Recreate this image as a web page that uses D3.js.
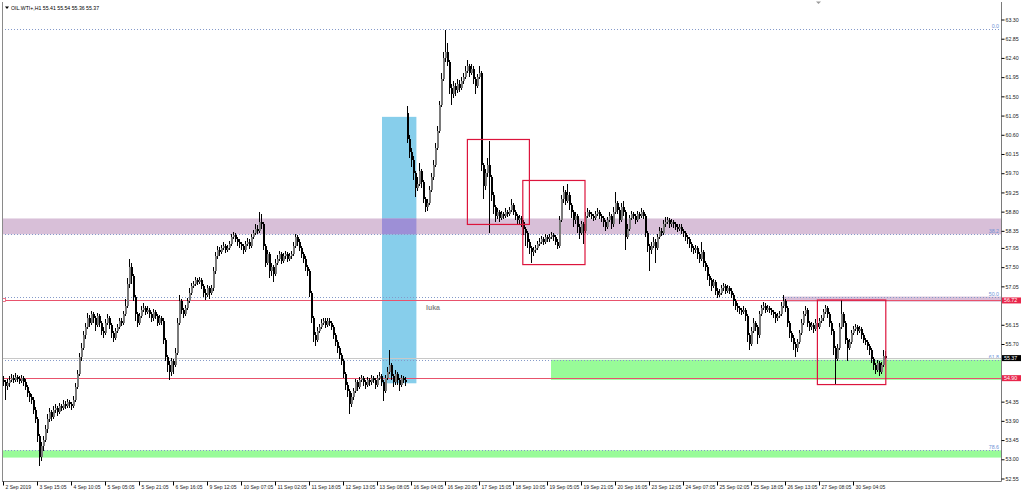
<!DOCTYPE html>
<html><head><meta charset="utf-8">
<script src="https://cdn.jsdelivr.net/npm/d3@7"></script>
<style>html,body{margin:0;padding:0;background:#fff;}svg{display:block;}</style>
</head><body>
<svg id="chart" width="1024" height="494"></svg>
<script>
// ---------------- DATA ----------------
const symbolTitle = "OIL.WTI+,H1";
const lastQuote = ["55.41", "55.54", "55.36", "55.37"];

const timeLabels = ["2 Sep 2019","3 Sep 15:05","4 Sep 10:05","5 Sep 05:05","5 Sep 21:05","6 Sep 16:05",
  "9 Sep 12:05","10 Sep 07:05","11 Sep 02:05","11 Sep 18:05","12 Sep 13:05","13 Sep 08:05",
  "16 Sep 04:05","16 Sep 20:05","17 Sep 15:05","18 Sep 10:05","19 Sep 05:05","19 Sep 21:05",
  "20 Sep 16:05","23 Sep 12:05","24 Sep 07:05","25 Sep 02:05","25 Sep 18:05","26 Sep 13:05",
  "27 Sep 08:05","30 Sep 04:05"];
const barsPerLabel = 17;

const priceTicks = [63.30,62.85,62.40,61.95,61.50,61.05,60.60,60.15,59.70,59.25,58.80,58.35,
  57.95,57.50,57.05,56.60,56.15,55.70,55.25,54.80,54.35,53.90,53.45,53.00,52.55];

const firstOpen = 54.85;
const gapBar = 202;
const gapOpen = 61.10;

const closes = [
54.80,54.72,54.78,54.85,54.90,54.86,54.92,54.88,54.84,54.90,
54.82,54.70,54.55,54.45,54.40,54.15,53.95,53.55,53.05,53.30,
53.45,53.70,53.95,54.10,54.00,54.15,54.20,54.10,54.25,54.20,
54.30,54.25,54.35,54.30,54.25,54.40,54.70,55.00,55.40,55.60,
55.90,56.10,56.30,56.20,56.40,56.30,56.15,56.35,56.20,56.00,
55.95,56.20,56.30,56.15,55.95,55.85,56.00,56.10,56.25,56.20,
56.40,56.60,57.10,57.50,57.30,56.80,56.40,56.20,56.35,56.50,
56.55,56.45,56.50,56.40,56.30,56.45,56.35,56.20,56.30,56.25,
55.80,55.40,55.20,55.05,55.30,55.20,55.50,56.20,56.70,56.50,
56.40,56.55,56.70,56.90,57.05,57.10,57.20,57.15,57.20,57.05,
56.90,56.85,57.00,56.90,57.00,57.40,57.75,57.90,57.85,57.95,
58.00,57.90,57.95,58.05,58.20,58.25,58.15,58.10,58.05,58.00,
57.90,58.05,58.10,58.00,58.20,58.30,58.40,58.35,58.55,58.50,
58.00,57.60,57.80,57.40,57.50,57.35,57.60,57.70,57.80,57.65,
57.75,57.80,57.70,57.75,57.80,58.00,58.20,58.10,57.95,57.80,
57.70,57.50,57.40,56.90,56.30,55.90,55.80,56.00,56.10,56.20,
56.25,56.15,56.25,56.20,56.10,55.90,55.75,55.60,55.45,55.30,
55.00,54.75,54.60,54.30,54.45,54.60,54.80,54.70,54.85,54.90,
54.80,54.75,54.85,54.80,54.90,54.85,54.75,54.90,54.95,54.80,
54.60,54.90,55.05,55.20,54.95,54.80,55.00,54.85,54.75,54.90,
54.85,54.80,60.50,60.20,60.00,59.70,59.35,59.45,59.75,59.50,
59.10,58.90,59.00,59.30,59.60,59.90,60.30,60.70,61.30,61.90,
62.40,62.55,62.30,61.70,61.55,61.75,61.65,61.80,61.70,61.85,
61.95,62.10,62.20,62.05,62.15,61.90,61.75,61.95,62.05,59.90,
59.40,59.70,59.90,59.60,59.20,58.90,58.70,58.80,58.65,58.75,
58.70,58.80,58.75,58.85,58.95,58.80,58.70,58.60,58.65,58.55,
58.40,58.30,58.10,57.95,57.85,57.90,57.95,58.05,58.10,58.15,
58.10,58.20,58.15,58.20,58.25,58.20,58.10,58.00,58.60,59.10,
59.25,59.05,59.20,58.95,58.80,58.60,58.70,58.45,58.30,58.50,
58.35,58.70,58.80,58.75,58.70,58.65,58.75,58.80,58.70,58.65,
58.55,58.45,58.60,58.70,58.50,58.80,59.00,58.85,58.60,58.90,
58.80,58.20,58.40,58.65,58.75,58.70,58.60,58.75,58.70,58.80,
58.70,58.30,58.00,57.90,58.00,58.10,57.95,58.20,58.35,58.30,
58.50,58.55,58.60,58.50,58.55,58.50,58.45,58.40,58.45,58.35,
58.30,58.20,58.15,58.05,57.95,57.90,57.95,57.80,57.70,57.85,
57.60,57.50,57.30,57.20,57.05,57.15,56.95,56.85,56.90,57.00,
57.05,56.95,57.00,56.95,56.85,56.70,56.60,56.55,56.50,56.45,
56.50,56.35,55.90,55.70,56.00,56.20,56.10,55.90,56.40,56.55,
56.60,56.50,56.55,56.50,56.45,56.40,56.30,56.35,56.40,56.60,
56.70,56.55,56.20,55.95,55.85,55.70,55.60,55.75,55.95,56.20,
56.40,56.50,56.20,56.10,56.15,56.05,56.20,56.10,56.25,56.30,
56.45,56.55,56.40,56.20,56.00,55.60,55.35,55.60,56.10,56.40,
56.20,55.80,55.60,55.75,55.95,56.05,56.10,56.00,56.05,55.90,
55.80,55.75,55.65,55.55,55.35,55.20,55.10,55.25,55.05,55.20,
55.41,55.37];

const highs = [
54.95,54.85,54.88,54.95,55.00,54.98,55.02,54.98,54.95,54.98,
54.95,54.88,54.75,54.60,54.52,54.45,54.22,54.00,53.60,53.40,
53.55,53.80,54.05,54.20,54.15,54.25,54.30,54.25,54.32,54.30,
54.38,54.36,54.42,54.40,54.35,54.48,54.78,55.10,55.50,55.72,
56.00,56.20,56.42,56.38,56.48,56.45,56.35,56.42,56.40,56.25,
56.10,56.28,56.40,56.35,56.20,56.00,56.08,56.18,56.32,56.30,
56.48,56.75,57.25,57.70,57.60,57.35,56.85,56.45,56.42,56.58,
56.65,56.60,56.58,56.55,56.45,56.52,56.50,56.40,56.38,56.35,
56.30,55.85,55.45,55.30,55.38,55.35,55.60,56.30,56.85,56.75,
56.55,56.62,56.78,57.00,57.12,57.18,57.28,57.25,57.27,57.25,
57.10,56.98,57.08,57.05,57.08,57.50,57.85,58.00,57.98,58.02,
58.08,58.05,58.02,58.12,58.28,58.32,58.30,58.20,58.15,58.10,
58.05,58.12,58.18,58.15,58.28,58.38,58.50,58.48,58.78,58.75,
58.55,58.05,57.90,57.85,57.60,57.55,57.68,57.78,57.88,57.85,
57.82,57.88,57.85,57.82,57.88,58.08,58.28,58.25,58.15,58.00,
57.85,57.75,57.55,57.45,56.95,56.35,55.98,56.10,56.18,56.28,
56.32,56.30,56.32,56.30,56.25,56.15,55.95,55.80,55.65,55.50,
55.35,55.05,54.80,54.65,54.55,54.68,54.88,54.85,54.92,54.98,
54.95,54.85,54.92,54.90,54.98,54.95,54.90,54.98,55.05,55.00,
54.85,54.98,55.15,55.55,55.25,55.00,55.08,55.05,54.90,54.98,
54.95,54.92,61.28,60.60,60.30,60.10,59.75,59.60,59.95,59.80,
59.55,59.15,59.10,59.40,59.70,60.00,60.40,60.80,61.40,62.05,
62.55,63.05,62.75,62.35,61.80,61.85,61.82,61.90,61.88,61.95,
62.05,62.20,62.35,62.25,62.25,62.20,61.95,62.02,62.20,62.10,
59.95,59.80,60.05,60.45,59.65,59.25,58.95,58.88,58.85,58.82,
58.80,58.88,58.85,58.92,59.10,59.00,58.85,58.75,58.72,58.70,
58.60,58.45,58.35,58.15,58.00,57.98,58.02,58.12,58.18,58.22,
58.20,58.28,58.25,58.28,58.32,58.30,58.25,58.15,58.70,59.20,
59.40,59.30,59.45,59.25,59.00,58.85,58.80,58.75,58.50,58.58,
58.55,58.78,58.88,58.85,58.80,58.75,58.82,58.88,58.85,58.75,
58.70,58.60,58.68,58.80,58.75,58.90,59.25,59.05,58.90,59.00,
59.05,58.85,58.50,58.72,58.82,58.80,58.75,58.82,58.80,58.88,
58.85,58.75,58.35,58.05,58.10,58.20,58.15,58.28,58.45,58.42,
58.60,58.68,58.68,58.65,58.62,58.60,58.55,58.50,58.52,58.50,
58.40,58.35,58.25,58.20,58.10,58.00,58.02,58.00,57.85,58.10,
57.90,57.65,57.55,57.35,57.25,57.22,57.20,57.00,56.98,57.08,
57.12,57.10,57.08,57.05,57.00,56.90,56.75,56.65,56.60,56.55,
56.58,56.55,56.40,55.95,56.10,56.30,56.25,56.15,56.48,56.62,
56.68,56.65,56.62,56.60,56.55,56.50,56.45,56.42,56.48,56.68,
56.85,56.75,56.60,56.25,56.00,55.90,55.75,55.82,56.02,56.28,
56.48,56.60,56.55,56.25,56.22,56.20,56.28,56.25,56.32,56.38,
56.52,56.62,56.60,56.45,56.25,56.05,55.65,55.70,56.20,56.72,
56.45,56.25,55.85,55.82,56.02,56.12,56.18,56.15,56.12,56.10,
55.95,55.85,55.80,55.70,55.60,55.40,55.25,55.32,55.30,55.28,
55.55,55.54];

const lows = [
54.72,54.40,54.62,54.70,54.80,54.78,54.82,54.80,54.76,54.78,
54.72,54.62,54.45,54.35,54.30,54.05,53.85,53.40,52.85,52.95,
53.20,53.40,53.62,53.88,53.90,53.95,54.08,54.02,54.05,54.12,
54.15,54.18,54.20,54.20,54.15,54.20,54.35,54.65,54.95,55.30,
55.55,55.82,56.05,56.10,56.15,56.20,56.00,56.10,56.10,55.90,
55.85,55.90,56.15,56.05,55.85,55.75,55.80,55.95,56.05,56.12,
56.15,56.35,56.55,57.00,57.10,56.70,56.25,56.10,56.15,56.30,
56.45,56.38,56.40,56.32,56.22,56.25,56.28,56.12,56.15,56.15,
55.70,55.30,55.05,54.85,54.95,55.00,55.15,55.45,56.15,56.40,
56.30,56.35,56.50,56.65,56.85,57.00,57.05,57.08,57.10,56.98,
56.80,56.72,56.80,56.75,56.85,56.95,57.35,57.70,57.75,57.80,
57.90,57.82,57.85,57.90,58.00,58.15,58.08,58.00,57.95,57.90,
57.80,57.85,58.00,57.92,57.95,58.15,58.25,58.28,58.30,58.40,
57.90,57.50,57.55,57.25,57.30,57.15,57.30,57.55,57.65,57.58,
57.60,57.70,57.62,57.65,57.70,57.75,57.95,58.00,57.88,57.72,
57.60,57.40,57.30,56.80,56.20,55.75,55.65,55.75,55.95,56.05,
56.15,56.08,56.10,56.12,56.02,55.82,55.65,55.50,55.35,55.20,
54.90,54.62,54.45,54.05,54.22,54.40,54.55,54.60,54.65,54.80,
54.72,54.65,54.70,54.72,54.75,54.78,54.65,54.70,54.85,54.72,
54.37,54.55,54.85,55.00,54.85,54.70,54.75,54.75,54.60,54.70,
54.78,54.72,60.40,60.05,59.85,59.55,59.15,59.28,59.40,59.35,
59.00,58.80,58.82,58.95,59.25,59.55,59.85,60.25,60.65,61.25,
61.85,62.30,62.20,61.55,61.30,61.45,61.50,61.58,61.60,61.65,
61.80,61.90,62.05,61.95,62.00,61.80,61.55,61.70,61.90,59.75,
59.10,59.30,59.60,58.30,59.05,58.75,58.55,58.62,58.55,58.60,
58.62,58.65,58.68,58.70,58.80,58.72,58.60,58.50,58.52,58.45,
58.25,58.00,57.95,57.80,57.60,57.75,57.82,57.90,58.00,58.05,
58.02,58.05,58.08,58.10,58.15,58.12,58.02,57.92,57.95,58.55,
59.00,58.95,59.00,58.85,58.65,58.45,58.50,58.30,58.15,58.25,
58.05,58.30,58.65,58.68,58.62,58.58,58.60,58.70,58.62,58.55,
58.45,58.35,58.40,58.55,58.40,58.45,58.75,58.75,58.50,58.55,
58.70,57.90,58.15,58.35,58.60,58.62,58.52,58.55,58.62,58.65,
58.62,58.20,57.85,57.40,57.80,57.95,57.60,57.90,58.15,58.22,
58.25,58.45,58.50,58.42,58.45,58.42,58.38,58.32,58.35,58.28,
58.20,58.12,58.05,57.95,57.85,57.80,57.82,57.70,57.60,57.65,
57.50,57.40,57.20,57.05,56.95,57.00,56.85,56.78,56.80,56.85,
56.95,56.88,56.90,56.88,56.78,56.60,56.50,56.45,56.40,56.38,
56.40,56.25,55.75,55.55,55.65,55.95,56.00,55.70,55.85,56.35,
56.50,56.42,56.45,56.42,56.38,56.32,56.20,56.25,56.30,56.35,
56.55,56.45,56.10,55.85,55.75,55.55,55.40,55.52,55.70,55.90,
56.15,56.35,56.10,56.00,56.02,55.95,56.00,56.02,56.05,56.20,
56.25,56.40,56.32,56.10,55.90,55.45,54.75,55.30,55.55,56.05,
56.10,55.70,55.30,55.55,55.70,55.90,56.00,55.92,55.95,55.82,
55.72,55.68,55.55,55.45,55.25,55.10,55.00,55.05,54.95,55.00,
55.15,55.36];

// Fibonacci retracement levels (label, price)
const fibLabels = ["0.0", "38.2", "50.0", "61.8", "78.6"];
const fibPrices = [63.07, 58.27, 56.79, 55.33, 53.21];
// horizontal alert lines and bid line
const alertPrices = [56.72, 54.90];
const bidPrice = 55.37;
// zones: [startBar (null = left edge), lowPrice, highPrice]
const purpleZones = [[null, 58.27, 58.64], [390, 56.69, 56.81]];
const greenZones = [[null, 53.04, 53.21], [274, 54.86, 55.33]];
// boxes: [startBar, endBar, lowPrice, highPrice]
const blueBox = [189.5, 206.7, 54.78, 61.02];
const redBoxes = [[232.2, 263.2, 58.50, 60.49], [259.9, 291.0, 57.56, 59.53], [407.2, 441.4, 54.75, 56.73]];
const noteText = "luka";
const notePos = [211.5, 56.50];

// ---------------- CHART ----------------
const svg = d3.select("#chart");
const plot = {left: 2, right: 1001, top: 2, bottom: 481};
const FONT = "'Liberation Sans', Arial, sans-serif";

const x = d3.scaleLinear().domain([0, closes.length - 1]).range([3, 3 + 2 * (closes.length - 1)]);
const y = d3.scaleLinear().domain([52.55, 63.30]).range([478.5, 19.5]);

svg.append("rect").attr("width", 1024).attr("height", 494).attr("fill", "#fff");

svg.append("defs").append("clipPath").attr("id", "clip")
  .append("rect").attr("x", plot.left).attr("y", plot.top)
  .attr("width", plot.right - plot.left).attr("height", plot.bottom - plot.top);

const g = svg.append("g").attr("clip-path", "url(#clip)");
const zx = s => s === null ? plot.left : x(s);

function drawZones(zs, color) {
  g.selectAll(null).data(zs).enter().append("rect")
    .attr("x", d => zx(d[0])).attr("width", d => plot.right - zx(d[0]))
    .attr("y", d => y(d[2])).attr("height", d => y(d[1]) - y(d[2]))
    .attr("fill", color);
}
g.append("rect").attr("x", x(blueBox[0])).attr("width", x(blueBox[1]) - x(blueBox[0]))
  .attr("y", y(blueBox[3])).attr("height", y(blueBox[2]) - y(blueBox[3])).attr("fill", "#87ceeb");
drawZones(purpleZones, "#d8bfd8");
drawZones(greenZones, "#98fb98");
{
  const z = purpleZones[0];
  const lo = Math.max(z[1], blueBox[2]), hi = Math.min(z[2], blueBox[3]);
  g.append("rect").attr("x", x(blueBox[0])).attr("width", x(blueBox[1]) - x(blueBox[0]))
    .attr("y", y(hi)).attr("height", y(lo) - y(hi)).attr("fill", "#9d8fd6");
}

g.selectAll(null).data(fibPrices).enter().append("line")
  .attr("x1", plot.left).attr("x2", plot.right)
  .attr("y1", d => Math.round(y(d)) + 0.5).attr("y2", d => Math.round(y(d)) + 0.5)
  .attr("stroke", "#8499c9").attr("stroke-width", 1).attr("stroke-dasharray", "1,2");
g.selectAll(null).data(fibPrices).enter().append("text")
  .attr("x", plot.right - 2).attr("y", d => Math.round(y(d)) - 1)
  .attr("text-anchor", "end").attr("font-family", FONT).attr("font-size", 5.3)
  .attr("fill", "#6f93d6").text((d, i) => fibLabels[i]);

g.append("line").attr("x1", plot.left).attr("x2", plot.right)
  .attr("y1", Math.round(y(bidPrice)) + 0.5).attr("y2", Math.round(y(bidPrice)) + 0.5)
  .attr("stroke", "#c8c8c8").attr("stroke-width", 1);
g.selectAll(null).data(alertPrices).enter().append("line")
  .attr("x1", plot.left).attr("x2", plot.right)
  .attr("y1", d => Math.round(y(d)) + 0.5).attr("y2", d => Math.round(y(d)) + 0.5)
  .attr("stroke", "#e8526c").attr("stroke-width", 1);
svg.append("rect").attr("x", 2.5).attr("y", Math.round(y(alertPrices[0])) - 1.5)
  .attr("width", 3).attr("height", 3).attr("fill", "#fff").attr("stroke", "#e8526c").attr("stroke-width", 0.8);

// candles
const bars = closes.map((c, i) => ({
  i, c, h: highs[i], l: lows[i],
  o: i === 0 ? firstOpen : (i === gapBar ? gapOpen : closes[i - 1])
}));
const cg = g.append("g").attr("shape-rendering", "crispEdges");
cg.selectAll(".wick").data(bars).enter().append("rect")
  .attr("x", d => x(d.i)).attr("width", 1)
  .attr("y", d => y(d.h)).attr("height", d => Math.max(1, y(d.l) - y(d.h)))
  .attr("fill", "#000");
cg.selectAll(".body").data(bars).enter().append("rect")
  .attr("x", d => x(d.i)).attr("width", 2)
  .attr("y", d => y(Math.max(d.o, d.c)))
  .attr("height", d => Math.max(1, Math.abs(y(d.o) - y(d.c))))
  .attr("fill", d => d.c >= d.o ? "#7a7a7a" : "#000");

g.selectAll(null).data(redBoxes).enter().append("rect")
  .attr("x", d => x(d[0])).attr("width", d => x(d[1]) - x(d[0]))
  .attr("y", d => y(d[3])).attr("height", d => y(d[2]) - y(d[3]))
  .attr("fill", "none").attr("stroke", "#dc143c").attr("stroke-width", 1.2);

g.append("text").attr("x", x(notePos[0])).attr("y", y(notePos[1]))
  .attr("font-family", FONT).attr("font-size", 7).attr("font-weight", "bold")
  .attr("fill", "#8a8a8a").text(noteText);

// frame lines
svg.append("line").attr("x1", plot.left + 0.5).attr("x2", plot.left + 0.5).attr("y1", plot.top).attr("y2", plot.bottom)
  .attr("stroke", "#8a8a8a");
svg.append("line").attr("x1", plot.right + 0.5).attr("x2", plot.right + 0.5).attr("y1", plot.top).attr("y2", plot.bottom + 0.5)
  .attr("stroke", "#7a7a7a");
svg.append("line").attr("x1", plot.left).attr("x2", plot.right + 0.5).attr("y1", plot.bottom + 0.5).attr("y2", plot.bottom + 0.5)
  .attr("stroke", "#7a7a7a");

// right price axis
const priceLabelValues = [alertPrices[0], bidPrice, alertPrices[1]];
const visibleTicks = priceTicks.filter(t => priceLabelValues.every(p => Math.abs(y(t) - y(p)) > 5.5));
const gy = svg.append("g").attr("transform", `translate(${plot.right + 0.5},0)`)
  .call(d3.axisRight(y).tickValues(visibleTicks).tickSize(3).tickPadding(1).tickFormat(d3.format(".2f")));
gy.select(".domain").remove();
gy.selectAll("line").attr("stroke", "#000");
gy.selectAll("text").attr("font-family", FONT).attr("font-size", 5.3).attr("fill", "#222");

const boxColors = ["#e8264b", "#000", "#e8264b"];
const pb = svg.append("g");
priceLabelValues.forEach((p, i) => {
  const yy = y(p);
  pb.append("rect").attr("x", plot.right + 1).attr("y", yy - 3).attr("width", 19).attr("height", 6)
    .attr("fill", boxColors[i]);
  pb.append("text").attr("x", plot.right + 3).attr("y", yy + 1.9)
    .attr("font-family", FONT).attr("font-size", 5.3).attr("fill", "#fff")
    .text(d3.format(".2f")(p));
});

// bottom time axis
const tickBars = timeLabels.map((_, k) => k * barsPerLabel);
const gxAxis = svg.append("g").attr("transform", `translate(0,${plot.bottom + 0.5})`)
  .call(d3.axisBottom(x).tickValues(tickBars).tickSize(4).tickFormat((d, i) => timeLabels[i]));
gxAxis.select(".domain").remove();
gxAxis.selectAll("line").attr("stroke", "#000");
gxAxis.selectAll("text").attr("text-anchor", "start").attr("x", 2).attr("y", 7).attr("dy", 0)
  .attr("font-family", FONT).attr("font-size", 5).attr("fill", "#222");

// title
svg.append("path").attr("d", "M5,6.5 L9,6.5 L7,9 Z").attr("fill", "#000");
svg.append("text").attr("x", 11).attr("y", 9.5).attr("font-family", FONT).attr("font-size", 5.2)
  .attr("fill", "#000").text(symbolTitle + "  " + lastQuote.join(" "));
svg.append("path").attr("d", "M816,1.5 L821,1.5 L818.5,4 Z").attr("fill", "#9a9a9a");
</script>
</body></html>
